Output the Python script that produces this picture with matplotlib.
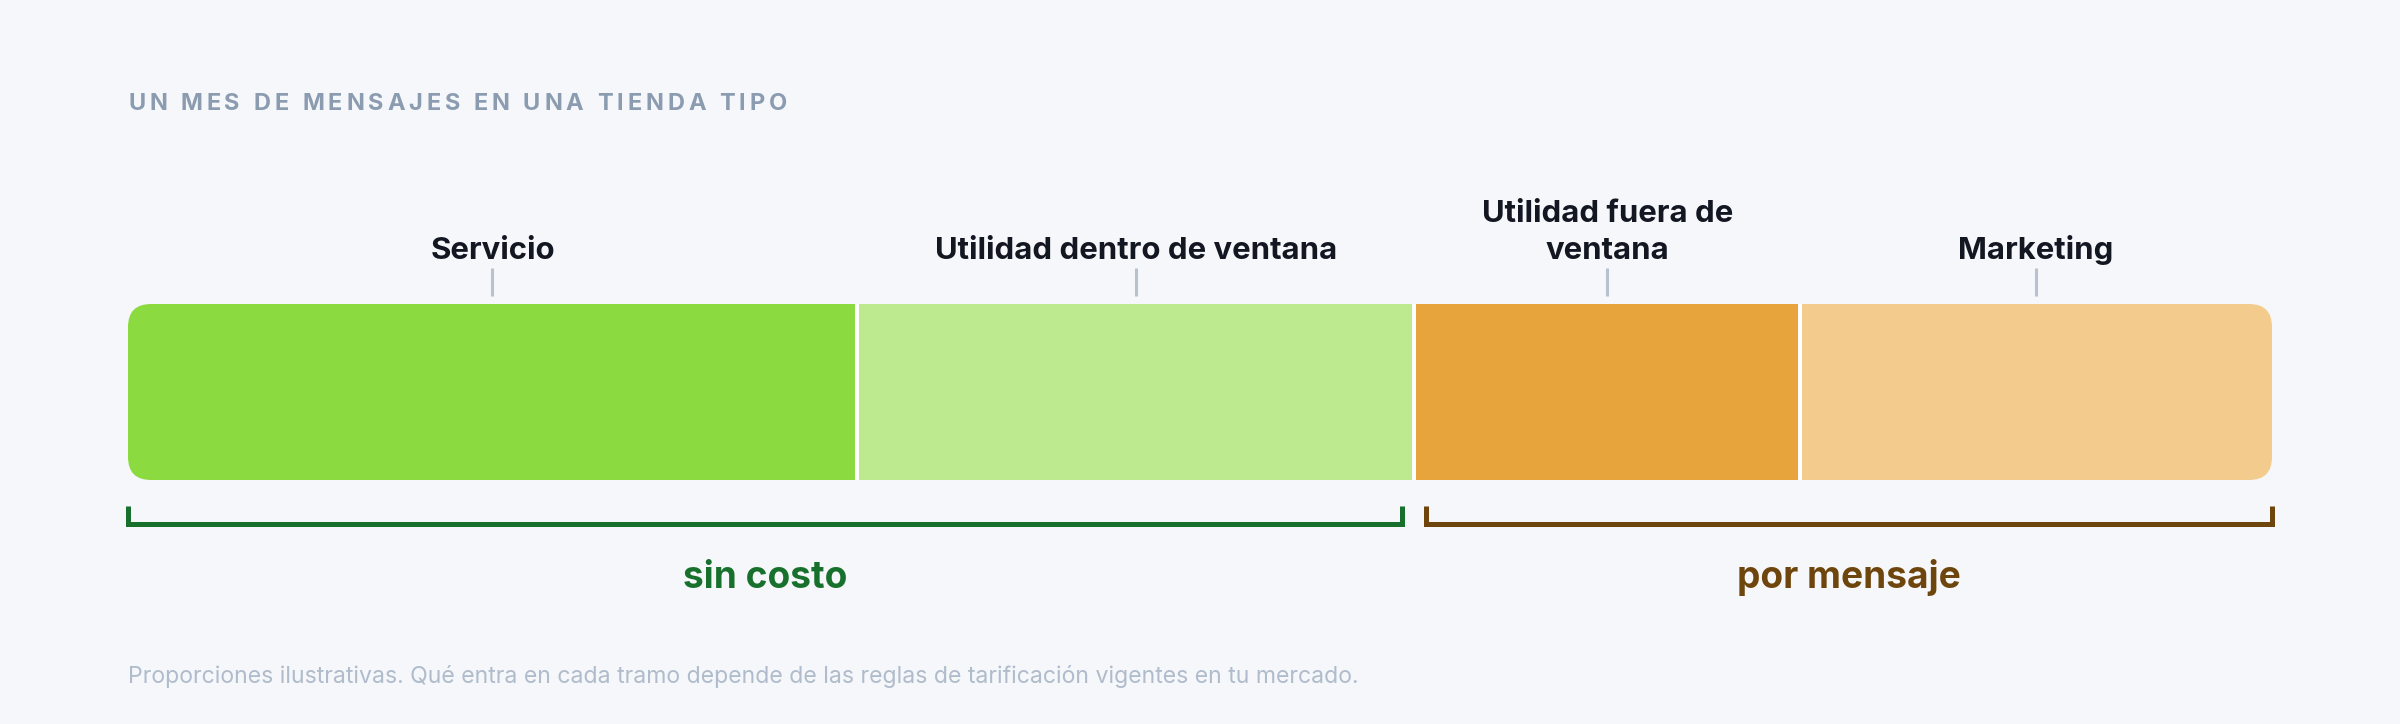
import matplotlib
matplotlib.use("Agg")
import numpy as np
import matplotlib.pyplot as plt
from matplotlib.patches import FancyBboxPatch

# data
segments = ["Servicio", "Utilidad dentro de ventana", "Utilidad fuera de\nventana", "Marketing"]
shares = [34, 26, 18, 22]
seg_colors = ["#8bdb40", "#bde98f", "#e8a43c", "#f3cb8d"]
groups = ["sin costo", "por mensaje"]
group_sizes = [2, 2]
group_colors = ["#17702b", "#6e450c"]
title = "UN MES DE MENSAJES EN UNA TIENDA TIPO"
note = ("Proporciones ilustrativas. Qué entra en cada tramo depende de las "
        "reglas de tarificación vigentes en tu mercado.")

W, H = 2400, 724
bg = "#f5f7fa"
plt.rcParams["font.family"] = ["Inter", "DejaVu Sans"]

fig = plt.figure(figsize=(W / 100, H / 100), dpi=100, facecolor=bg)

# bar area in pixels (left, right, top, bottom)
bx0, bx1, by0, by1 = 128, 2272, 304, 480
bh = by1 - by0
ax = fig.add_axes([bx0 / W, 1 - by1 / H, (bx1 - bx0) / W, bh / H])
total = sum(shares)
ax.set_xlim(0, total)
ax.set_ylim(0, 1)
ax.axis("off")

px = total / (bx1 - bx0)  # data units per pixel
lefts = np.concatenate([[0], np.cumsum(shares)[:-1]])
ends = np.cumsum(shares)
centers = lefts + np.array(shares) / 2

# rounded outline used to clip the stacked bar
clip = FancyBboxPatch((0, 0), total, 1,
                      boxstyle=f"round,pad=0,rounding_size={23 * px}",
                      mutation_aspect=1 / (bh * px),
                      facecolor="none", edgecolor="none", transform=ax.transData)
ax.add_patch(clip)
bars = ax.barh(0.5, shares, left=lefts, height=1, color=seg_colors, linewidth=0)
for b in bars:
    b.set_clip_path(clip)
ax.vlines(lefts[1:], 0, 1, colors="white", linewidth=2.9)

# segment labels with small ticks
xt = ax.get_xaxis_transform()
ax.vlines(centers, (by1 - 296) / bh, (by1 - 268) / bh, transform=xt,
          colors="#b8c2cf", linewidth=2.2, clip_on=False)
for c, s in zip(centers, segments):
    ax.text(c, (by1 - 265) / bh, s, transform=xt, ha="center", va="bottom",
            fontsize=22.4, fontweight="bold", color="#131722", linespacing=1.42,
            clip_on=False)

# brackets for pricing groups
start = 0
for g, n, col in zip(groups, group_sizes, group_colors):
    xa = lefts[start] + (12 * px if start > 0 else 0)
    xb = ends[start + n - 1] - (12 * px if start + n < len(shares) else 0)
    ytop, ybot = (by1 - 506) / bh, (by1 - 523.5) / bh
    ax.plot([xa, xa, xb, xb], [ytop, ybot, ybot, ytop], transform=xt, color=col,
            lw=3.6, solid_joinstyle="miter", solid_capstyle="butt", clip_on=False)
    ax.text((xa + xb) / 2, (by1 - 588) / bh, g, transform=xt, ha="center",
            va="baseline", fontsize=26.7, fontweight="bold", color=col, clip_on=False)
    start += n


# letter-spaced title
def spaced_text(x, y, s, target_w, **kw):
    r = fig.canvas.get_renderer()
    probe = fig.text(0, 0, "|", **kw)
    bar_w = probe.get_window_extent(r).width

    def width(t):
        probe.set_text(t + "|")
        return probe.get_window_extent(r).width - bar_w

    spacing = (target_w - width(s)) / (len(s) - 1)
    for i, ch in enumerate(s):
        fig.text(x + (width(s[:i]) + i * spacing) / W, y, ch, **kw)
    probe.remove()


spaced_text(128 / W, 1 - 110.5 / H, title, 659, fontsize=17, fontweight="bold",
            color="#8b9bb0", va="baseline")

fig.text(128 / W, 1 - 683 / H, note, fontsize=16.6, color="#b0bccb", va="baseline")

fig.savefig("out.png", dpi=100, facecolor=bg)
